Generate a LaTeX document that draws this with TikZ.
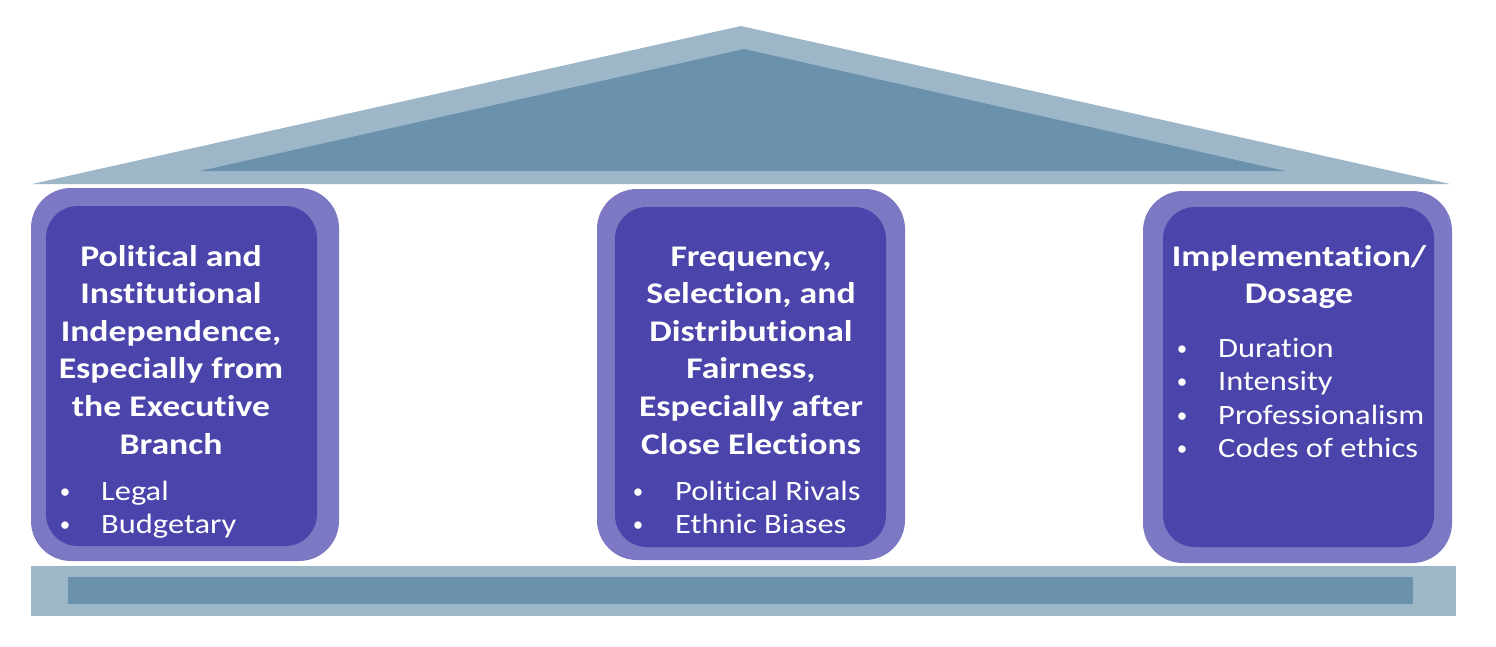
\documentclass[tikz,border=0pt]{standalone}
\usepackage{fontspec}
\setmainfont[Ligatures=NoCommon]{Carlito}
\newfontfamily\titlefont[Ligatures=NoCommon,FakeStretch=1.19]{Carlito}
\newfontfamily\itemfont[Ligatures=NoCommon,FakeStretch=1.16]{Carlito}
\definecolor{roofLight}{HTML}{9DB7C9}
\definecolor{roofDark}{HTML}{6A92AD}
\definecolor{pillarOuter}{HTML}{7C78C4}
\definecolor{pillarInner}{HTML}{4A44AB}
\tikzset{
  outerpillar/.style={fill=pillarOuter,draw=none,rounded corners=40pt},
  innerpillar/.style={fill=pillarInner,draw=none,rounded corners=32pt},
  titleline/.style={anchor=base,inner sep=0pt,text=white,font=\titlefont\bfseries\fontsize{30}{38}\selectfont},
  itemline/.style={anchor=base west,inner sep=0pt,text=white,font=\itemfont\fontsize{28}{33}\selectfont},
  bulletmark/.style={anchor=base,inner sep=0pt,text=white,font=\fontsize{21}{33}\selectfont},
}
\begin{document}
\begin{tikzpicture}[x=1pt,y=-1pt]
\useasboundingbox (0,0) rectangle (1496,646);
% roof
\fill[roofLight] (32,184) -- (741,26) -- (1450,184) -- cycle;
\fill[roofDark] (200,171) -- (744,49) -- (1285,171) -- cycle;
% base
\fill[roofLight] (31,566) rectangle (1456,616);
\fill[roofDark] (68,577) rectangle (1413,604);
% pillars
\fill[outerpillar] (31,188) rectangle (339,561);
\fill[innerpillar] (46,206) rectangle (317,546);
\fill[outerpillar] (597,189) rectangle (905,560);
\fill[innerpillar] (615,207) rectangle (886,547);
\fill[outerpillar] (1143,191) rectangle (1452,563);
\fill[innerpillar] (1163,207) rectangle (1434,547);
% left title
\foreach \t [count=\i] in {Political and,Institutional,{Independence,},Especially from,the Executive,Branch}
  \node[titleline] (lt\i) at (171,{266+37.6*(\i-1)}) {\t};
\node[bulletmark] (lb1) at (65,498) {•};
\node[itemline] (li1) at (101,500) {Legal};
\node[bulletmark] (lb2) at (65,531) {•};
\node[itemline] (li2) at (101,533) {Budgetary};
% middle title
\foreach \t [count=\i] in {{Frequency,},{Selection, and},Distributional,{Fairness,},Especially after,Close Elections}
  \node[titleline] (mt\i) at (751,{266+37.6*(\i-1)}) {\t};
\node[bulletmark] (mb1) at (638,498) {•};
\node[itemline] (mi1) at (675,500) {Political Rivals};
\node[bulletmark] (mb2) at (638,531) {•};
\node[itemline] (mi2) at (675,533) {Ethnic Biases};
% right title
\node[titleline] (rt1) at (1299,266) {Implementation/};
\node[titleline] (rt2) at (1299,303.6) {Dosage};
\foreach \t/\y [count=\i] in {Duration/357,Intensity/390.5,Professionalism/424,Codes of ethics/457.5}{
  \node[bulletmark] (rb\i) at (1182,\y-2) {•};
  \node[itemline] (ri\i) at (1218,\y) {\t};
}
\end{tikzpicture}
\end{document}
